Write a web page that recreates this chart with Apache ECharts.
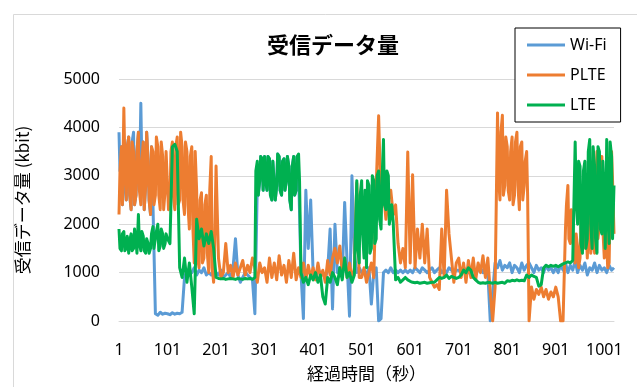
<!DOCTYPE html>
<html>
<head>
<meta charset="utf-8">
<script src="https://cdn.jsdelivr.net/npm/echarts@6/dist/echarts.min.js"></script>
<style>
  html, body { margin: 0; padding: 0; background: #ffffff; }
  #chart { width: 637px; height: 387px; }
</style>
</head>
<body>
<div id="chart"></div>
<script>
// Received data (kbit) per elapsed second.
// Main samples every 5 s starting at second 1; extra samples fill the busy stretches.
const firstSecond = 1;
const stepSeconds = 5;
const lastSecond = 1021;

const wifi = [
  3900, 3600, 3000, 2500, 3800, 2300, 3900, 2600, 3900, 4500, 3700, 2800, 3300, 2200, 2400, 150, 120, 180, 140, 160,
  150, 130, 170, 140, 160, 150, 180, 900, 1050, 950, 1000, 1100, 950, 1050, 1000, 1100, 950, 1000, 950, 1050,
  1000, 950, 1050, 900, 950, 1000, 900, 1100, 1700, 950, 800, 900, 1000, 950, 900, 850, 150, 2800, 2900, 3350,
  3400, 2700, 3350, 2500, 3300, 2800, 3400, 2600, 3350, 2900, 3200, 2300, 3400, 2700, 3100, 1000, 50, 2700, 1500, 2500,
  1000, 900, 1100, 950, 1000, 900, 1050, 1900, 250, 2000, 1000, 1100, 900, 2450, 1200, 100, 3000, 1400, 1000, 1100,
  1000, 1050, 950, 1100, 350, 1000, 1100, 0, 50, 1000, 1050, 1000, 1100, 1000, 1050, 1000, 1050, 1000, 1050, 1000,
  1050, 1000, 1100, 1050, 1000, 1100, 1050, 1000, 1050, 1100, 1000, 1050, 1100, 1000, 1050, 1000, 1100, 1050, 1000, 1050,
  1050, 1000, 1100, 1050, 1000, 1050, 1100, 1000, 1050, 1100, 1000, 1050, 1000, 0, 600, 1200, 1100, 1250, 1050, 1150,
  1100, 1200, 1000, 1150, 1100, 1000, 1200, 1050, 1150, 1200, 1100, 1000, 1150, 1050, 1100, 1000, 1150, 1050, 1100, 1000,
  1100, 1000, 1150, 1050, 1200, 1000, 1150, 1050, 1250, 1000, 1150, 1050, 1200, 950, 1100, 1050, 1200, 1000, 1150, 1050,
  1100, 1000, 1150, 1050, 1100
];
const wifiMidAStart = 3;
const wifiMidA = [3100, 2400, 3300, 3600, 2600, 3700, 2400, 3500, 2700, 3300, 2300, 3900, 2500, 3600];
const wifiMidBStart = 288;
const wifiMidB = [2600, 3400, 2700, 2900, 3400, 2600, 3300, 2500, 3450, 2700, 3300, 2700, 3400, 2500, 3200, 2600, 3400];

const plte = [
  2200, 3600, 4400, 2500, 3800, 2300, 3500, 2600, 3900, 2400, 3700, 2800, 3300, 2200, 3500, 2600, 3600, 2300, 3400, 2700,
  3500, 2400, 3700, 2300, 3800, 2500, 3600, 2200, 3500, 1900, 3600, 1200, 2700, 1100, 2650, 1300, 2600, 1000, 3400, 800,
  3200, 1300, 900, 1000, 1600, 1000, 1150, 900, 1200, 950, 1100, 1250, 950, 1150, 1000, 1300, 1100, 800, 1200, 1000,
  1100, 800, 1300, 900, 1200, 850, 1350, 950, 1150, 800, 1250, 900, 1400, 850, 1100, 900, 1200, 850, 1150, 900,
  1100, 850, 1200, 900, 1050, 800, 1250, 950, 1300, 1500, 1200, 1550, 1000, 1300, 900, 1200, 850, 1100, 2850, 900,
  900, 1100, 800, 1000, 1200, 900, 2800, 4240, 2400, 2700, 2100, 2500, 2700, 2200, 2400, 1600, 1200, 1500, 1100, 3490,
  1200, 3020, 1100, 1900, 1300, 2000, 1200, 1900, 900, 800, 700, 750, 650, 1900, 900, 2700, 1800, 1300, 800, 1200,
  1300, 900, 1200, 800, 1250, 900, 1300, 850, 1200, 1000, 1350, 900, 1300, 600, 0, 700, 4300, 2500, 4250, 2800,
  3600, 2500, 3800, 2600, 3900, 2300, 3700, 2800, 3500, 0, 700, 450, 650, 550, 700, 500, 650, 450, 600, 500,
  700, 500, 0, 0, 1900, 2800, 1600, 2000, 1200, 1500, 1300, 2400, 1700, 1300, 2200, 1600, 1400, 3500, 2000, 3400,
  1300, 1600, 1200, 3500, 1800
];
const plteMidAStart = 3;
const plteMidA = [
  3100, 2400, 3300, 3600, 2600, 3700, 2400, 3500, 2700, 3300, 2300, 3900, 2500, 3600, 2400, 3800, 2600, 3700, 2300, 3500,
  2300, 3500, 2600, 3600, 2400, 3900, 2500, 3700, 2400, 3400, 2000, 3500, 1300, 2500, 1200, 2400, 1400, 2700, 1100, 1500
];
const plteMidBStart = 783;
const plteMidB = [3000, 3900, 2600, 3800, 2700, 3500, 2400, 3700, 2800, 3600, 2500, 3300, 2600];
const plteMidCStart = 923;
const plteMidC = [2400, 1700, 2300, 1400, 1800, 1100, 2000, 1500, 2100, 1900, 1400, 2300, 2600, 1700, 3100, 1900, 2200, 1100, 2400, 2900];

const lte = [
  1900, 1450, 1850, 1500, 1400, 1800, 1500, 1650, 2200, 1450, 1750, 1400, 1600, 1500, 1950, 1700, 2000, 1550, 1800, 1600,
  1700, 1600, 3600, 3650, 3500, 1100, 900, 1300, 800, 1200, 700, 150, 2100, 1700, 1900, 1550, 1800, 1600, 1850, 1500,
  900, 880, 870, 880, 860, 870, 880, 870, 860, 880, 870, 860, 880, 870, 880, 860, 900, 3300, 2900, 3350,
  3400, 2700, 3350, 2500, 3300, 2800, 3400, 2600, 3350, 2900, 3200, 2300, 3400, 2700, 3450, 1000, 800, 900, 750, 950,
  850, 1000, 800, 950, 500, 350, 900, 800, 1000, 900, 750, 1100, 850, 1300, 900, 1000, 800, 950, 2900, 1200,
  2900, 1300, 1100, 2800, 1500, 2900, 1700, 3100, 1900, 3750, 2300, 3000, 2200, 2050, 850, 900, 800, 850, 900, 850,
  820, 800, 790, 800, 780, 790, 800, 780, 790, 800, 800, 850, 900, 880, 900, 950, 880, 920, 900, 880,
  900, 950, 1050, 1000, 1100, 1050, 900, 850, 800, 780, 790, 780, 800, 790, 780, 800, 780, 790, 800, 780,
  830, 820, 840, 830, 850, 830, 840, 830, 950, 900, 950, 920, 900, 720, 750, 1100, 1150, 1120, 1150, 1130,
  1150, 1120, 1150, 1180, 1200, 1220, 1200, 1250, 3700, 2000, 3200, 1400, 3300, 1700, 3750, 1500, 3200, 1400, 3500, 1800,
  2500, 3750, 1600, 3400, 2800
];
const lteMidAStart = 3;
const lteMidA = [1500, 1800, 1450, 1750, 1650, 1450, 1900, 1400, 1600, 1850, 1450, 1700, 1400, 1800, 1500, 1850, 1450, 1900, 1500, 1800];
const lteMidBStart = 283;
const lteMidB = [3100, 2600, 3400, 2700, 2900, 3400, 2600, 3300, 2500, 3450, 2700, 3300, 2700, 3400, 2500, 3200, 2600, 3400, 2900];
const lteMidCStart = 493;
const lteMidC = [1500, 2600, 1800, 2700, 2900, 1400, 3000, 1600, 3000, 2100, 2900, 2400, 3100, 2000, 2400];
const lteMidDStart = 943;
const lteMidD = [2500, 3300, 1600, 3100, 1500, 3500, 2000, 3600, 1700, 3600, 1900, 3300, 1500, 2200, 3700, 1700];

// Elapsed-time categories, one per second
const seconds = [];
for (let s = firstSecond; s <= lastSecond; s++) seconds.push(String(s));

// Merge main and extra samples into [categoryIndex, value] points ordered by time
function buildPoints(main, extras) {
  const pts = main.map((v, i) => [firstSecond + i * stepSeconds, v]);
  extras.forEach(([start, values]) => {
    values.forEach((v, j) => pts.push([start + j * stepSeconds, v]));
  });
  pts.sort((a, b) => a[0] - b[0]);
  return pts.map(p => [p[0] - firstSecond, p[1]]);
}

const seriesNames = ['Wi-Fi', 'PLTE', 'LTE'];
const seriesColors = ['#5B9BD5', '#ED7D31', '#00B050'];
const seriesPoints = [
  buildPoints(wifi, [[wifiMidAStart, wifiMidA], [wifiMidBStart, wifiMidB]]),
  buildPoints(plte, [[plteMidAStart, plteMidA], [plteMidBStart, plteMidB], [plteMidCStart, plteMidC]]),
  buildPoints(lte, [[lteMidAStart, lteMidA], [lteMidBStart, lteMidB], [lteMidCStart, lteMidC], [lteMidDStart, lteMidD]])
];

const labelFont = '"Noto Sans", "Noto Sans CJK JP", sans-serif';
const jpFont = '"Noto Sans CJK JP", "Noto Sans", sans-serif';

const chart = echarts.init(document.getElementById('chart'), null, { renderer: 'canvas' });

chart.setOption({
  animation: false,
  backgroundColor: '#ffffff',
  title: {
    text: '受信データ量',
    left: 328,
    top: 29,
    textAlign: 'center',
    textStyle: { fontFamily: jpFont, fontSize: 22, fontWeight: 'bold', color: '#000000' }
  },
  graphic: [{
    type: 'rect',
    left: 11, top: 12,
    shape: { width: 700, height: 420 },
    style: { fill: 'none', stroke: '#d9d9d9', lineWidth: 1 },
    silent: true
  }],
  legend: {
    orient: 'vertical',
    left: 515,
    top: 28,
    padding: [9, 14, 9, 12],
    itemGap: 14,
    itemWidth: 38,
    itemHeight: 3,
    icon: 'rect',
    borderColor: '#000000',
    borderWidth: 1,
    backgroundColor: '#ffffff',
    textStyle: { fontFamily: labelFont, fontSize: 16, color: '#000000' },
    data: seriesNames
  },
  grid: { left: 119, right: 23, top: 79, bottom: 62, containLabel: false },
  xAxis: {
    type: 'category',
    data: seconds,
    boundaryGap: false,
    name: '経過時間（秒）',
    nameLocation: 'middle',
    nameGap: 44,
    nameTextStyle: { fontFamily: jpFont, fontSize: 17, color: '#000000' },
    axisLine: { show: true, lineStyle: { color: '#d9d9d9' } },
    axisTick: { show: false },
    axisLabel: {
      interval: 99,
      fontFamily: labelFont, fontSize: 16, color: '#000000', margin: 21
    },
    splitLine: { show: false }
  },
  yAxis: {
    type: 'value',
    min: 0, max: 5000, interval: 1000,
    name: '受信データ量 (kbit)',
    nameLocation: 'middle',
    nameRotate: 90,
    nameGap: 88,
    nameTextStyle: { fontFamily: jpFont, fontSize: 17, color: '#000000' },
    axisLine: { show: false },
    axisTick: { show: false },
    axisLabel: {
      fontFamily: labelFont, fontSize: 16, color: '#000000', margin: 19,
      formatter: function (v) { return String(v); }
    },
    splitLine: { lineStyle: { color: '#d9d9d9', width: 1 } }
  },
  series: seriesNames.map((name, k) => ({
    name: name,
    type: 'line',
    data: seriesPoints[k],
    showSymbol: false,
    symbol: 'none',
    lineStyle: { color: seriesColors[k], width: 3, join: 'round' },
    itemStyle: { color: seriesColors[k] },
    z: 2 + k
  }))
});
</script>
</body>
</html>
